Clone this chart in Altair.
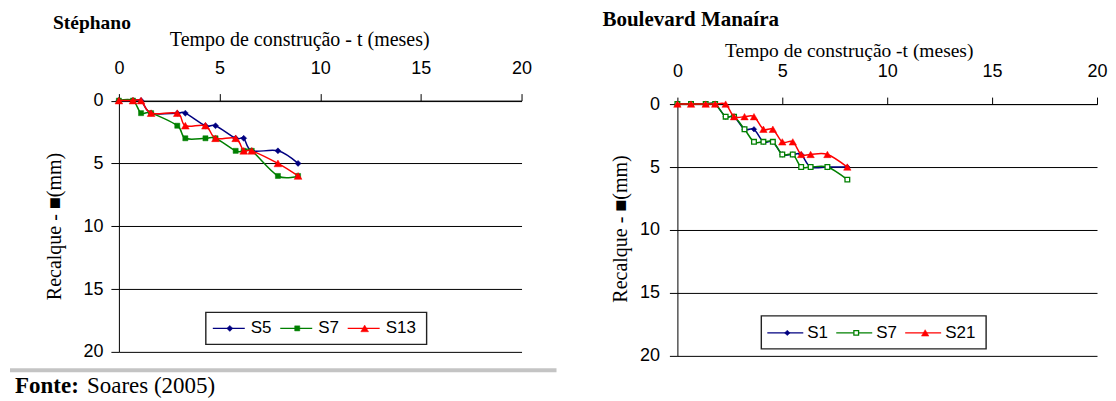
import altair as alt
import pandas as pd

# ---------------- data: Stéphano ----------------
esq_t = [0, 0.7, 1.1, 1.6, 2.9, 3.3, 4.3, 4.8, 5.8, 6.2, 6.6, 7.9, 8.9]
esq_S5 = [0, 0, 0, 1, 1, 1, 2, 2, 3, 3, 4, 4, 5]
esq_S7 = [0, 0, 1, 1, 2, 3, 3, 3, 4, 4, 4, 6, 6]
esq_S13 = [0, 0, 0, 1, 1, 2, 2, 3, 3, 4, 4, 5, 6]
esq_names = ["S5", "S7", "S13"]

# ---------------- data: Boulevard Manaíra ----------------
dir_t = [0, 0.65, 1.35, 1.8, 2.3, 2.7, 3.2, 3.65, 4.1, 4.55, 5.0, 5.5, 5.9, 6.35, 7.15, 8.1]
dir_S1 = [0, 0, 0, 0, 1, 1, 2, 2, 3, 3, 4, 4, 4, 5, 5, 5]
dir_S7 = [0, 0, 0, 0, 1, 1, 2, 3, 3, 3, 4, 4, 5, 5, 5, 6]
dir_S21 = [0, 0, 0, 0, 0, 1, 1, 1, 2, 2, 3, 3, 4, 4, 4, 5]
dir_names = ["S1", "S7", "S21"]

x_ticks = [0, 5, 10, 15, 20]
y_ticks = [0, 5, 10, 15, 20]

title_left = "Stéphano"
title_right = "Boulevard Manaíra"
xtitle_left = "Tempo de construção - t (meses)"
xtitle_right = "Tempo de construção -t (meses)"
ytitle = "Recalque - ■(mm)"
fonte_bold = "Fonte:"
fonte_rest = "Soares (2005)"

SERIF = "Liberation Serif"
SANS = "Liberation Sans"
BLUE, GREEN, RED = "#000080", "#008000", "#ff0000"


def one(s):
    return pd.DataFrame({"s": [s]})


def text(s, x, y, size, font=SERIF, weight="normal", align="left",
         angle=0, baseline="alphabetic"):
    return alt.Chart(one(s)).mark_text(
        font=font, fontSize=size, fontWeight=weight, align=align,
        baseline=baseline, angle=angle, color="black"
    ).encode(text="s:N", x=alt.value(x), y=alt.value(y))


def panel(t, vals, names, styles, W, H, cfg):
    rows = []
    for name, v in zip(names, vals):
        for ti, vi in zip(t, v):
            rows.append({"t": ti, "r": vi, "serie": name})
    df = pd.DataFrame(rows)
    dy = cfg["dy"]  # vertical shift of the plot top inside the panel

    xenc = alt.X("t:Q", scale=alt.Scale(domain=[0, 20], nice=False, zero=False),
                 axis=alt.Axis(orient="top", values=x_ticks, title=None, grid=False,
                               offset=-dy, tickSize=7, tickColor="black",
                               domainColor="black",
                               labelFont=SANS, labelFontSize=18, labelColor="black",
                               labelPadding=16.5, labelFlush=False,
                               labelOverlap=False, labelAngle=0, format="d"))
    yenc = alt.Y("r:Q", scale=alt.Scale(domain=[0, 20], range=[dy, dy + H], nice=False,
                                        zero=False),
                 axis=alt.Axis(orient="left", values=y_ticks, title=None, grid=True,
                               gridColor="black", gridOpacity=1, gridWidth=1,
                               tickSize=8, tickColor="black", domainColor="black",
                               labelFont=SANS, labelFontSize=18, labelColor="black",
                               labelPadding=cfg["ylabpad"], labelFlush=False,
                               labelOverlap=False, format="d"))
    base = alt.Chart(df).encode(x=xenc, y=yenc)

    layers = []
    for name, st in zip(names, styles):
        sub = base.transform_filter(alt.datum.serie == name)
        layers.append(sub.mark_line(interpolate="cardinal", color=st["color"],
                                    strokeWidth=1.5))
        layers.append(sub.mark_point(shape=st["shape"], size=st["size"],
                                     fill=st["fill"], stroke=st["color"],
                                     strokeWidth=st["sw"], opacity=1,
                                     fillOpacity=1))

    # texts
    layers.append(text(cfg["title"], cfg["tx"], cfg["ty"] + dy, cfg["tsize"], weight="bold"))
    layers.append(text(cfg["xtitle"], cfg["xtx"], cfg["xty"] + dy, cfg["xtsize"],
                       align="center"))
    layers.append(text(ytitle, cfg["ytx"], cfg["yty"] + dy, 20, align="center",
                       angle=270, baseline="middle"))

    # legend box
    lb = cfg["legend"]
    layers.append(alt.Chart(one("box")).mark_rect(
        fill="white", stroke="#222222", strokeWidth=1.4).encode(
        x=alt.value(lb["x0"]), x2=alt.value(lb["x1"]),
        y=alt.value(lb["y0"] + dy), y2=alt.value(lb["y1"] + dy)))
    for i, (name, st) in enumerate(zip(names, styles)):
        off = i * lb["stride"]
        layers.append(alt.Chart(one(name)).mark_rule(
            color=st["color"], strokeWidth=1.4).encode(
            x=alt.value(lb["lx0"] + off), x2=alt.value(lb["lx1"] + off),
            y=alt.value(lb["ly"] + dy)))
        layers.append(alt.Chart(one(name)).mark_point(
            shape=st["shape"], size=st["size"], fill=st["fill"], stroke=st["color"],
            strokeWidth=st["sw"], opacity=1, fillOpacity=1).encode(
            x=alt.value(lb["mx"] + off), y=alt.value(lb["ly"] + dy)))
        layers.append(text(name, lb["tx"] + off, lb["ly"] + dy, 17, font=SANS,
                           baseline="middle"))

    # layout guide (invisible) fixing the plot origin in the page
    layers.append(alt.Chart(one("g")).mark_rule(strokeOpacity=0, strokeWidth=1).encode(
        x=alt.value(cfg["gx"]), x2=alt.value(cfg["gx"] + 1),
        y=alt.value(cfg["gy"]), y2=alt.value(cfg["gy"] + 1)))

    for extra in cfg.get("extras", []):
        layers.append(extra)

    return alt.layer(*layers).properties(width=W, height=H)


left_styles = [
    {"color": BLUE, "shape": "diamond", "size": 36, "fill": BLUE, "sw": 0.5},
    {"color": GREEN, "shape": "square", "size": 26, "fill": GREEN, "sw": 0.5},
    {"color": RED, "shape": "triangle-up", "size": 60, "fill": RED, "sw": 0.5},
]
right_styles = [
    {"color": BLUE, "shape": "diamond", "size": 30, "fill": BLUE, "sw": 0.5},
    {"color": GREEN, "shape": "square", "size": 22, "fill": "white", "sw": 1.3},
    {"color": RED, "shape": "triangle-up", "size": 55, "fill": RED, "sw": 0.5},
]

LDY = -3.5  # left plot top sits 3.5 px higher than the right one

left_extras = [
    alt.Chart(one("sep")).mark_rule(color="#c4c4c4", strokeWidth=4).encode(
        x=alt.value(-109), x2=alt.value(438), y=alt.value(270 + LDY)),
    text(fonte_bold, -104, 293 + LDY, 23, weight="bold"),
    text(fonte_rest, -32, 293 + LDY, 23),
]

left = panel(
    esq_t, [esq_S5, esq_S7, esq_S13], esq_names, left_styles, 403, 251.5,
    {"dy": LDY, "ylabpad": 8,
     "title": title_left, "tx": -66, "ty": -72, "tsize": 19.5,
     "xtitle": xtitle_left, "xtx": 181, "xty": -55, "xtsize": 20,
     "ytx": -64, "yty": 126,
     "legend": {"x0": 87, "x1": 308, "y0": 212, "y1": 244, "stride": 67.5,
                "lx0": 94, "lx1": 126, "mx": 111, "tx": 132, "ly": 228},
     "gx": -20, "gy": -90, "extras": left_extras})

right = panel(
    dir_t, [dir_S1, dir_S7, dir_S21], dir_names, right_styles, 420, 252,
    {"dy": 0, "ylabpad": 10,
     "title": title_right, "tx": -75, "ty": -78, "tsize": 21,
     "xtitle": xtitle_right, "xtx": 172, "xty": -47, "xtsize": 19.5,
     "ytx": -56, "yty": 125,
     "legend": {"x0": 84, "x1": 309, "y0": 212, "y1": 245, "stride": 69,
                "lx0": 90, "lx1": 126, "mx": 110, "tx": 130, "ly": 229},
     "gx": -118.5, "gy": -95.5})

chart = alt.hconcat(left, right, spacing=0).properties(
    padding=0, background="white"
).configure_view(strokeWidth=0)

chart.save("out.html", embed_options={"renderer": "svg", "actions": False})
